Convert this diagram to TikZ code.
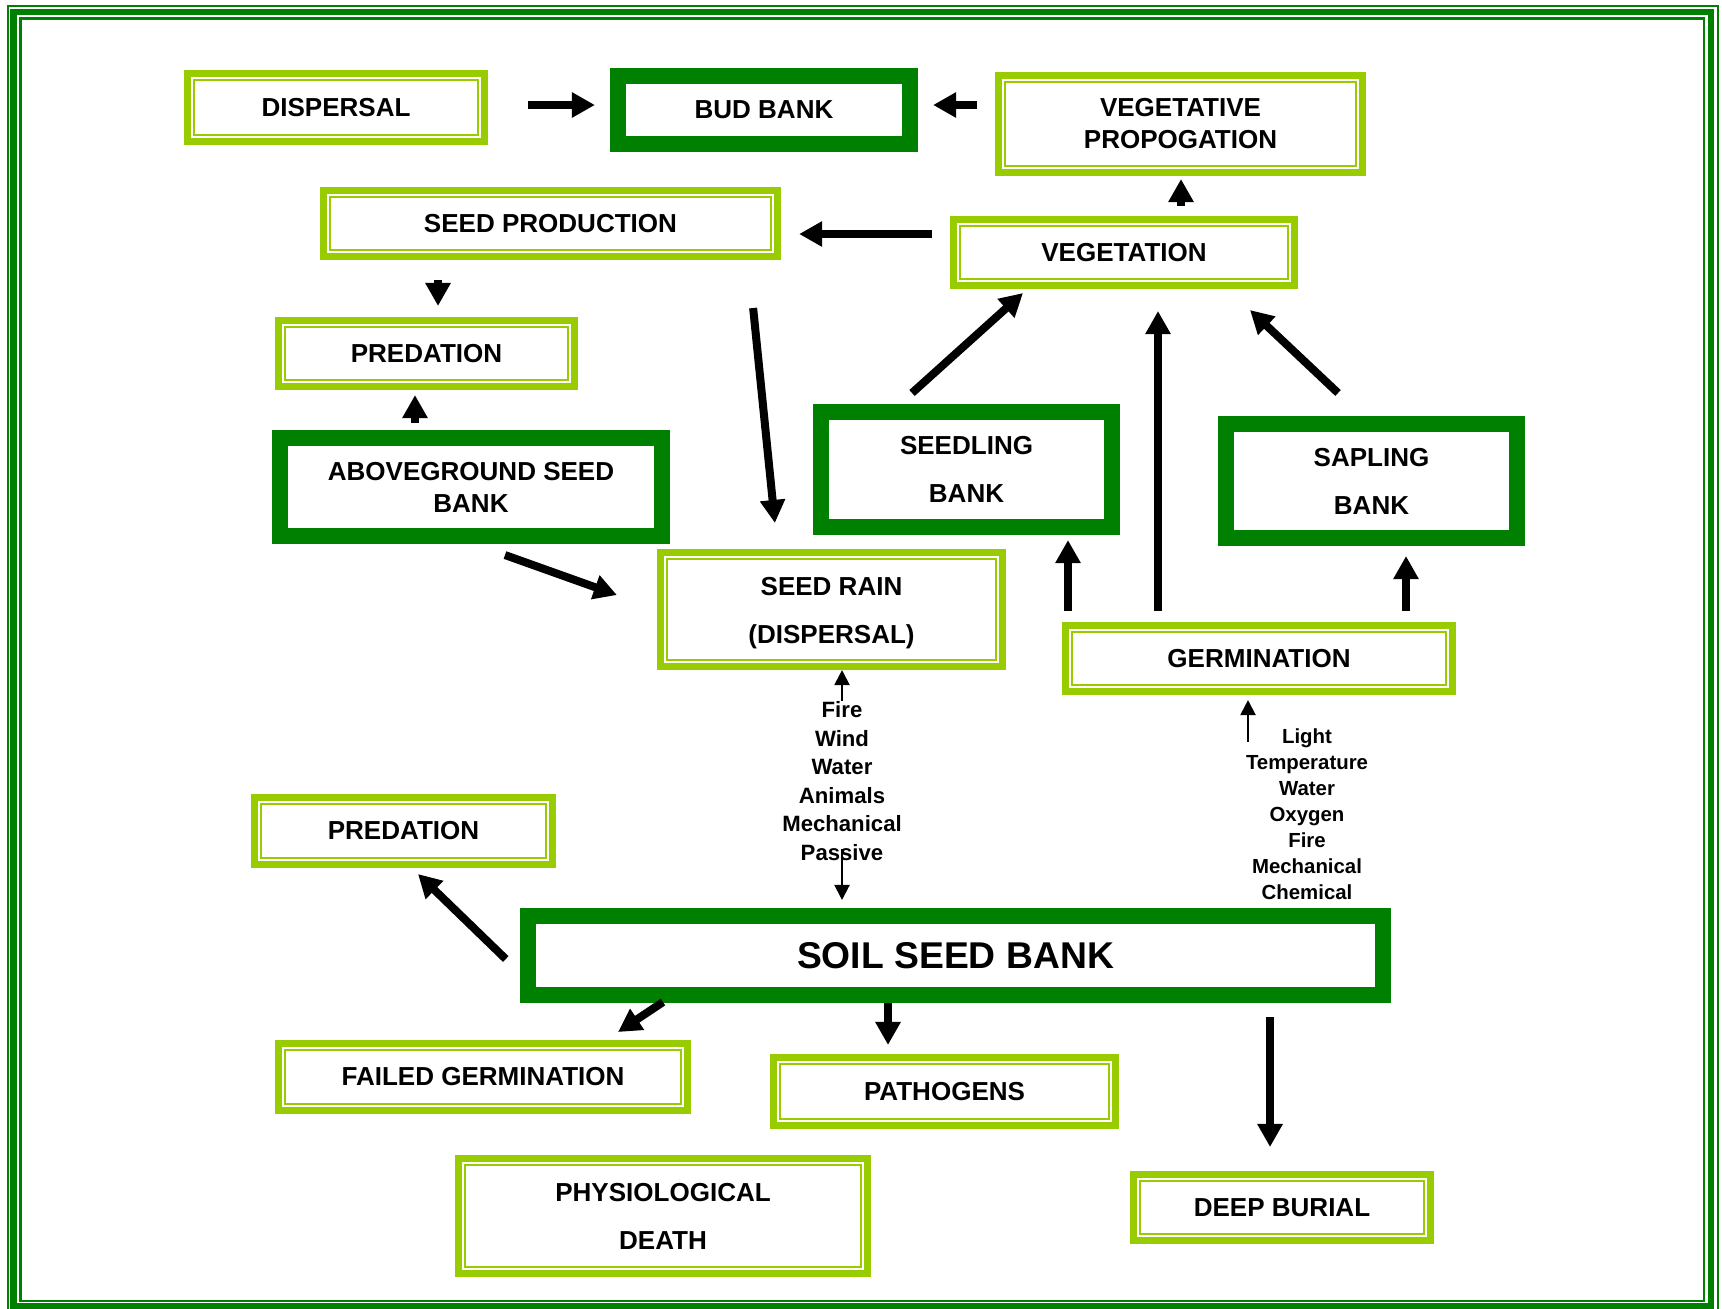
\documentclass[tikz,border=0pt]{standalone}
\usepackage{fontspec}
\setmainfont{Liberation Sans}
\usetikzlibrary{arrows.meta}
\definecolor{lgreen}{HTML}{99CC00}
\definecolor{dgreen}{HTML}{008000}

\begin{document}
\begin{tikzpicture}
[   x=0.01cm, y=-0.01cm,
    lbox/.style={draw=lgreen,line width=0.07cm,fill=white,inner sep=0pt,align=center,
        font=\fontsize{7.4}{9.1}\selectfont\bfseries,
        path picture={\draw[lgreen,line width=0.02cm]
            ([shift={(0.065cm,0.065cm)}]path picture bounding box.south west) rectangle
            ([shift={(-0.065cm,-0.065cm)}]path picture bounding box.north east);}},
    dbox/.style={draw=dgreen,line width=0.16cm,fill=white,inner sep=0pt,align=center,
        font=\fontsize{7.4}{9.1}\selectfont\bfseries},
    wide/.style={font=\fontsize{7.4}{13.6}\selectfont\bfseries},
    arr/.style={line width=0.08cm,-{Triangle[length=0.23cm,width=0.24cm]}},
    tarr/.style={line width=0.02cm,-{Triangle[length=0.15cm,width=0.15cm]}},
    factor/.style={align=center,inner sep=0pt},
]
    \useasboundingbox (0,0) rectangle (1722,1308);

    % page frame
    \draw[dgreen,line width=0.025cm] (8,6) rectangle (1718,1310);
    \draw[dgreen,line width=0.06cm] (13.5,12) rectangle (1710.5,1306);
    \draw[dgreen,line width=0.025cm] (20.5,18.5) rectangle (1704,1301);

    % boxes
    \node[lbox,minimum width=2.97cm,minimum height=0.68cm] (disp) at (336,107.5) {DISPERSAL};
    \node[dbox,minimum width=2.92cm,minimum height=0.68cm] (bud) at (764,110) {BUD BANK};
    \node[lbox,minimum width=3.64cm,minimum height=0.97cm] (vegp) at (1180.5,124) {VEGETATIVE\\PROPOGATION};
    \node[lbox,minimum width=4.54cm,minimum height=0.66cm] (sprod) at (550.5,223.5) {SEED PRODUCTION};
    \node[lbox,minimum width=3.41cm,minimum height=0.66cm] (vegt) at (1124,252.5) {VEGETATION};
    \node[lbox,minimum width=2.96cm,minimum height=0.66cm] (predup) at (426.5,353.5) {PREDATION};
    \node[dbox,minimum width=3.82cm,minimum height=0.98cm] (abg) at (471,487) {ABOVEGROUND SEED\\BANK};
    \node[dbox,wide,minimum width=2.91cm,minimum height=1.15cm] (sdl) at (966.5,469.5) {SEEDLING\\BANK};
    \node[dbox,wide,minimum width=2.91cm,minimum height=1.14cm] (spl) at (1371.5,481) {SAPLING\\BANK};
    \node[lbox,minimum width=3.42cm,minimum height=1.14cm,
        label={[wide,align=center,yshift=-0.04cm]center:SEED RAIN\\(DISPERSAL)}] (rain) at (831.5,609.5) {};
    \node[lbox,minimum width=3.87cm,minimum height=0.66cm] (germ) at (1259,658.5) {GERMINATION};
    \node[lbox,minimum width=2.98cm,minimum height=0.67cm] (preddn) at (403.5,831) {PREDATION};
    \node[dbox,minimum width=8.55cm,minimum height=0.79cm,font=\fontsize{10.6}{12}\selectfont\bfseries] (soil) at (955.5,955.5) {SOIL SEED BANK};
    \node[lbox,minimum width=4.09cm,minimum height=0.67cm] (fail) at (483,1077) {FAILED GERMINATION};
    \node[lbox,minimum width=3.42cm,minimum height=0.68cm] (patho) at (944.5,1091.5) {PATHOGENS};
    \node[lbox,wide,minimum width=4.09cm,minimum height=1.15cm] (phys) at (663,1216) {PHYSIOLOGICAL\\DEATH};
    \node[lbox,minimum width=2.97cm,minimum height=0.66cm] (deep) at (1282,1207.5) {DEEP BURIAL};

    % factor lists
    \node[factor,font=\fontsize{6.3}{8.1}\selectfont\bfseries] (disf) at (842,781)
        {Fire\\Wind\\Water\\Animals\\Mechanical\\Passive};
    \node[factor,font=\fontsize{5.8}{7.4}\selectfont\bfseries] (germf) at (1307,814)
        {Light\\Temperature\\Water\\Oxygen\\Fire\\Mechanical\\Chemical};

    % thick arrows
    \draw[arr] ([shift={(40,-2.5)}]disp.east) -- ([shift={(-15,-5)}]bud.west);
    \draw[arr] ([shift={(-18,-19)}]vegp.west) -- ([shift={(15,-5)}]bud.east);
    \draw[arr] ([shift={(57,-10)}]vegt.north) -- ([shift={(0.5,3)}]vegp.south);
    \draw[arr] ([shift={(-18,-18.5)}]vegt.west) -- ([shift={(18,10.5)}]sprod.east);
    \draw[arr] ([shift={(-112.5,20)}]sprod.south) -- ([shift={(11.5,-11)}]predup.north);
    \draw[arr] ([shift={(-56,-7)}]abg.north) -- ([shift={(-11.5,5)}]predup.south);
    \draw[arr] ([shift={(-28,48)}]sprod.south east) -- ([shift={(118,-26)}]rain.north west);
    \draw[arr] ([shift={(34,11)}]abg.south) -- ([shift={(-40,-14.5)}]rain.west);
    \draw[arr] ([shift={(-54.5,-11)}]sdl.north) -- ([shift={(-101,4)}]vegt.south);
    \draw[arr] ([shift={(-101,-11)}]germ.north) -- ([shift={(34,22)}]vegt.south);
    \draw[arr] ([shift={(-33.5,-23)}]spl.north) -- ([shift={(126,21)}]vegt.south);
    \draw[arr] ([shift={(-191,-11)}]germ.north) -- ([shift={(101.5,5)}]sdl.south);
    \draw[arr] ([shift={(147,-11)}]germ.north) -- ([shift={(34.5,10)}]spl.south);
    \draw[arr] ([shift={(-14,3.5)}]soil.west) -- ([shift={(14.5,6)}]preddn.south);
    \draw[arr] ([shift={(-292.5,-1)}]soil.south) -- ([shift={(135,-8)}]fail.north);
    \draw[arr] ([shift={(-67.5,0)}]soil.south) -- ([shift={(-56.5,-9)}]patho.north);
    \draw[arr] ([shift={(314.5,14)}]soil.south) -- ([shift={(-12,-24)}]deep.north);

    % thin arrows
    \draw[tarr] (disf.north) -- (disf.north |- rain.south);
    \draw[tarr,shorten >=0.08cm] ([yshift=0.12cm]disf.south) -- (disf.south |- soil.north);
    \draw[tarr] ([shift={(-11,47)}]germ.south) -- ([shift={(-11,5)}]germ.south);
\end{tikzpicture}
\end{document}
